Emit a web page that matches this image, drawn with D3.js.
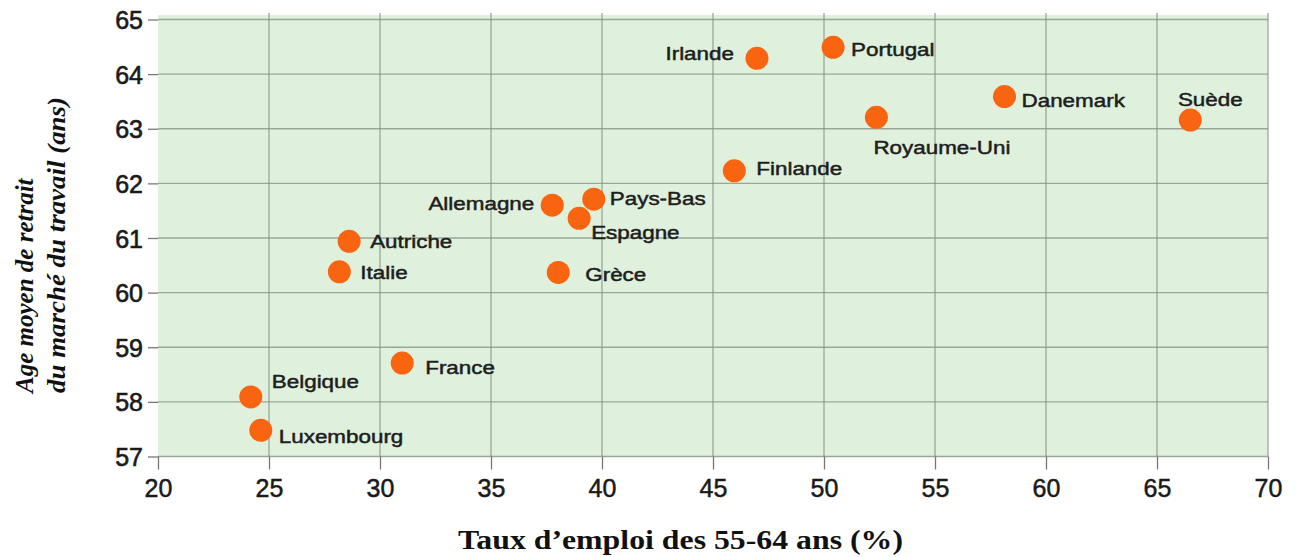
<!DOCTYPE html>
<html><head><meta charset="utf-8">
<script src="https://cdn.jsdelivr.net/npm/d3@7"></script>
<style>
html,body{margin:0;padding:0;background:#fff;}
svg{display:block;}
</style></head>
<body>
<svg id="chart" width="1299" height="557"></svg>
<script>
// ---- data ----
const countries = ["Irlande","Portugal","Danemark","Suède","Royaume-Uni","Finlande","Pays-Bas","Allemagne","Espagne","Autriche","Italie","Grèce","France","Belgique","Luxembourg"];
const employmentRate = [46.98,50.41,58.13,66.5,52.36,45.96,39.63,37.76,38.97,28.61,28.17,38.03,31.0,24.18,24.63];
const retirementAge = [64.29,64.49,63.59,63.16,63.21,62.23,61.71,61.60,61.36,60.94,60.38,60.37,58.71,58.09,57.48];
const xTicks = [20,25,30,35,40,45,50,55,60,65,70];
const yTicks = [57,58,59,60,61,62,63,64,65];
const xTitle = "Taux d\u2019emploi des 55-64 ans (%)";
const yTitle = ["Age moyen de retrait","du marché du travail (ans)"];

// ---- label placement (layout) ----
const labelPlace = {
  "Irlande":{dx:-23,dy:-5,anchor:"end"},
  "Portugal":{dx:18,dy:2,anchor:"start"},
  "Danemark":{dx:17,dy:4,anchor:"start"},
  "Suède":{dx:20,dy:-21,anchor:"middle"},
  "Royaume-Uni":{dx:-3,dy:30,anchor:"start"},
  "Finlande":{dx:22,dy:-2,anchor:"start"},
  "Pays-Bas":{dx:16,dy:-1,anchor:"start"},
  "Allemagne":{dx:-18,dy:-2,anchor:"end"},
  "Espagne":{dx:12,dy:14,anchor:"start"},
  "Autriche":{dx:21,dy:0,anchor:"start"},
  "Italie":{dx:21,dy:0,anchor:"start"},
  "Grèce":{dx:27,dy:2,anchor:"start"},
  "France":{dx:23,dy:4,anchor:"start"},
  "Belgique":{dx:21,dy:-16,anchor:"start"},
  "Luxembourg":{dx:18,dy:6,anchor:"start"}
};

const svg = d3.select("#chart");
const L=158, R=1268, T=19.5, B=456.5;
const x = d3.scaleLinear().domain([20,70]).range([L,R]);
const y = d3.scaleLinear().domain([57,65]).range([B,T]);

// background
svg.append("rect").attr("x",L).attr("y",15).attr("width",R-L).attr("height",B-15+0.5).attr("fill","#dff1dc");

// grid
const g = svg.append("g");
g.selectAll(".vg").data(xTicks.slice(1)).enter().append("line")
  .attr("x1",d=>x(d)).attr("x2",d=>x(d)).attr("y1",13).attr("y2",B)
  .attr("stroke","#8a948a").attr("stroke-width",1.3).attr("opacity",0.8);
g.selectAll(".hg").data(yTicks).enter().append("line")
  .attr("x1",L).attr("x2",R).attr("y1",d=>y(d)).attr("y2",d=>y(d))
  .attr("stroke","#8a948a").attr("stroke-width",1.3).attr("opacity",0.8);

// axes
const xAxis = d3.axisBottom(x).tickValues(xTicks).tickSize(13).tickPadding(10).tickFormat(d3.format("d"));
const gx = svg.append("g").attr("transform",`translate(0,${B})`).call(xAxis);
gx.select(".domain").remove();
gx.selectAll(".tick line").attr("stroke","#777").attr("stroke-width",1.3);
gx.selectAll(".tick text").attr("font-family","Liberation Sans, Arial, sans-serif").attr("font-size",25)
  .attr("fill","#1a1a1a").attr("stroke","#1a1a1a").attr("stroke-width",0.5);

const yAxis = d3.axisLeft(y).tickValues(yTicks).tickSize(10).tickPadding(5).tickFormat(d3.format("d"));
const gy = svg.append("g").attr("transform",`translate(${L},0)`).call(yAxis);
gy.select(".domain").remove();
gy.selectAll(".tick line").attr("stroke","#777").attr("stroke-width",1.3);
gy.selectAll(".tick text").attr("font-family","Liberation Sans, Arial, sans-serif").attr("font-size",25)
  .attr("fill","#1a1a1a").attr("stroke","#1a1a1a").attr("stroke-width",0.6).attr("dy","0.36em");

// titles
svg.append("text").attr("x",458).attr("y",549)
  .attr("textLength",445).attr("lengthAdjust","spacingAndGlyphs")
  .attr("font-family","Liberation Serif, Times New Roman, serif").attr("font-weight","bold")
  .attr("font-size",28).attr("fill","#111").text(xTitle);
const yt = svg.append("text").attr("transform","rotate(-90)")
  .attr("text-anchor","start").attr("font-family","Liberation Serif, Times New Roman, serif")
  .attr("font-weight","bold").attr("font-style","italic").attr("font-size",25).attr("fill","#111");
yt.append("tspan").attr("x",-393).attr("y",33).text(yTitle[0]);
yt.append("tspan").attr("x",-393).attr("y",65)
  .attr("textLength",296).attr("lengthAdjust","spacingAndGlyphs").text(yTitle[1]);

// points
const data = countries.map((c,i)=>({name:c, xv:employmentRate[i], yv:retirementAge[i]}));
svg.append("g").selectAll("circle").data(data).enter().append("circle")
  .attr("cx",d=>x(d.xv)).attr("cy",d=>y(d.yv)).attr("r",11.5).attr("fill","#f8640f");

// labels
svg.append("g").selectAll("text").data(data).enter().append("text")
  .attr("transform",d=>{const p=labelPlace[d.name];return `translate(${x(d.xv)+p.dx},${y(d.yv)+p.dy}) scale(1.18,1)`;})
  .attr("text-anchor",d=>labelPlace[d.name].anchor).attr("dy","0.35em")
  .attr("font-family","Liberation Sans, Arial, sans-serif").attr("font-size",19)
  .attr("fill","#1e1e1e").attr("stroke","#1e1e1e").attr("stroke-width",0.5)
  .text(d=>d.name);
</script>
</body></html>
